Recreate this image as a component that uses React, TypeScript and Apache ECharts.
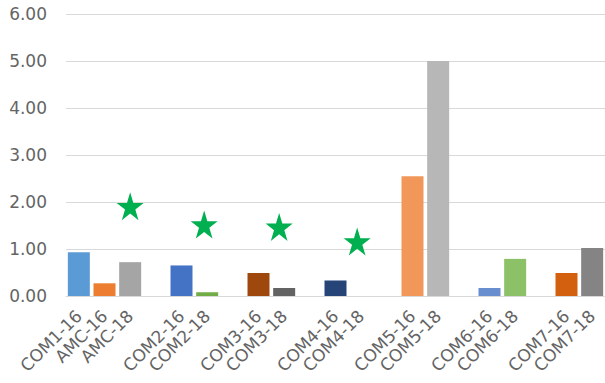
import React, { useEffect, useRef } from "react";
import * as echarts from "echarts";

// Category slots along the x axis; empty strings are spacer slots between groups.
const categories: string[] = [
  "COM1-16", "AMC-16", "AMC-18", "",
  "COM2-16", "COM2-18", "",
  "COM3-16", "COM3-18", "",
  "COM4-16", "COM4-18", "",
  "COM5-16", "COM5-18", "",
  "COM6-16", "COM6-18", "",
  "COM7-16", "COM7-18",
];

// Bar heights per slot (null = spacer).
const barValues: (number | null)[] = [
  0.93, 0.27, 0.72, null,
  0.65, 0.08, null,
  0.49, 0.17, null,
  0.33, 0.0, null,
  2.55, 5.0, null,
  0.17, 0.79, null,
  0.49, 1.02,
];

// Star markers per slot (null = no marker).
const starValues: (number | null)[] = [
  null, null, 1.91, null,
  null, 1.52, null,
  null, 1.47, null,
  null, 1.16, null,
  null, null, null,
  null, null, null,
  null, null,
];

const yTicks: number[] = [0, 1, 2, 3, 4, 5, 6];

// Fill colour for each bar slot.
const barColors: string[] = [
  "#5B9BD5", "#ED7D31", "#A5A5A5", "#000000",
  "#4472C4", "#70AD47", "#000000",
  "#9E480E", "#636363", "#000000",
  "#264478", "#43682B", "#000000",
  "#F1975A", "#B7B7B7", "#000000",
  "#698ED0", "#8CC168", "#000000",
  "#D2600F", "#848484",
];

// Small horizontal nudges for the star markers (px).
const starNudge: number[] = [
  0, 0, 0, 0,
  0, -3, 0,
  0, -5, 0,
  0, -4, 0,
  0, 0, 0,
  0, 0, 0,
  0, 0,
];

// Five-pointed star outline for the marker symbol.
function starPath(): string {
  const pts: string[] = [];
  for (let i = 0; i < 10; i++) {
    const r = i % 2 === 0 ? 50 : 19.1;
    const a = (Math.PI / 5) * i - Math.PI / 2;
    const x = 50 + r * Math.cos(a);
    const y = 50 + r * Math.sin(a);
    pts.push(`${i === 0 ? "M" : "L"}${x.toFixed(2)},${y.toFixed(2)}`);
  }
  return "path://" + pts.join(" ") + " Z";
}

const FONT = "DejaVu Sans";
const TEXT = "#646464";

export default function App() {
  const ref = useRef<HTMLDivElement>(null);

  useEffect(() => {
    if (!ref.current) return;
    const chart = echarts.init(ref.current, undefined, { renderer: "svg" });
    const star = starPath();

    chart.setOption({
      animation: false,
      backgroundColor: "#ffffff",
      grid: { left: 66, right: 0, top: 14, bottom: 87, containLabel: false },
      xAxis: {
        type: "category",
        data: categories,
        axisLine: { show: true, lineStyle: { color: "#D9D9D9", width: 1 } },
        axisTick: { show: false },
        axisLabel: {
          interval: 0,
          rotate: 45,
          margin: 17,
          color: TEXT,
          fontFamily: FONT,
          fontSize: 17,
        },
      },
      yAxis: {
        type: "value",
        min: yTicks[0],
        max: yTicks[yTicks.length - 1],
        interval: 1,
        axisLine: { show: false },
        axisTick: { show: false },
        splitLine: { show: true, lineStyle: { color: "#D9D9D9", width: 1 } },
        axisLabel: {
          margin: 19,
          color: TEXT,
          fontFamily: FONT,
          fontSize: 17,
          formatter: (v: number) => v.toFixed(2),
        },
      },
      series: [
        {
          type: "bar",
          barWidth: 22,
          data: barValues.map((v, i) =>
            v === null ? "-" : { value: v, itemStyle: { color: barColors[i] } }
          ),
        },
        {
          type: "scatter",
          symbol: star,
          symbolSize: [27, 28],
          itemStyle: { color: "#00B050", opacity: 1 },
          data: starValues.map((v, i) =>
            v === null ? "-" : { value: v, symbolOffset: [starNudge[i], 0] }
          ),
          z: 5,
        },
      ],
    });

    return () => chart.dispose();
  }, []);

  return (
    <div
      ref={ref}
      style={{ position: "fixed", left: 0, top: 0, width: 605, height: 383 }}
    />
  );
}
